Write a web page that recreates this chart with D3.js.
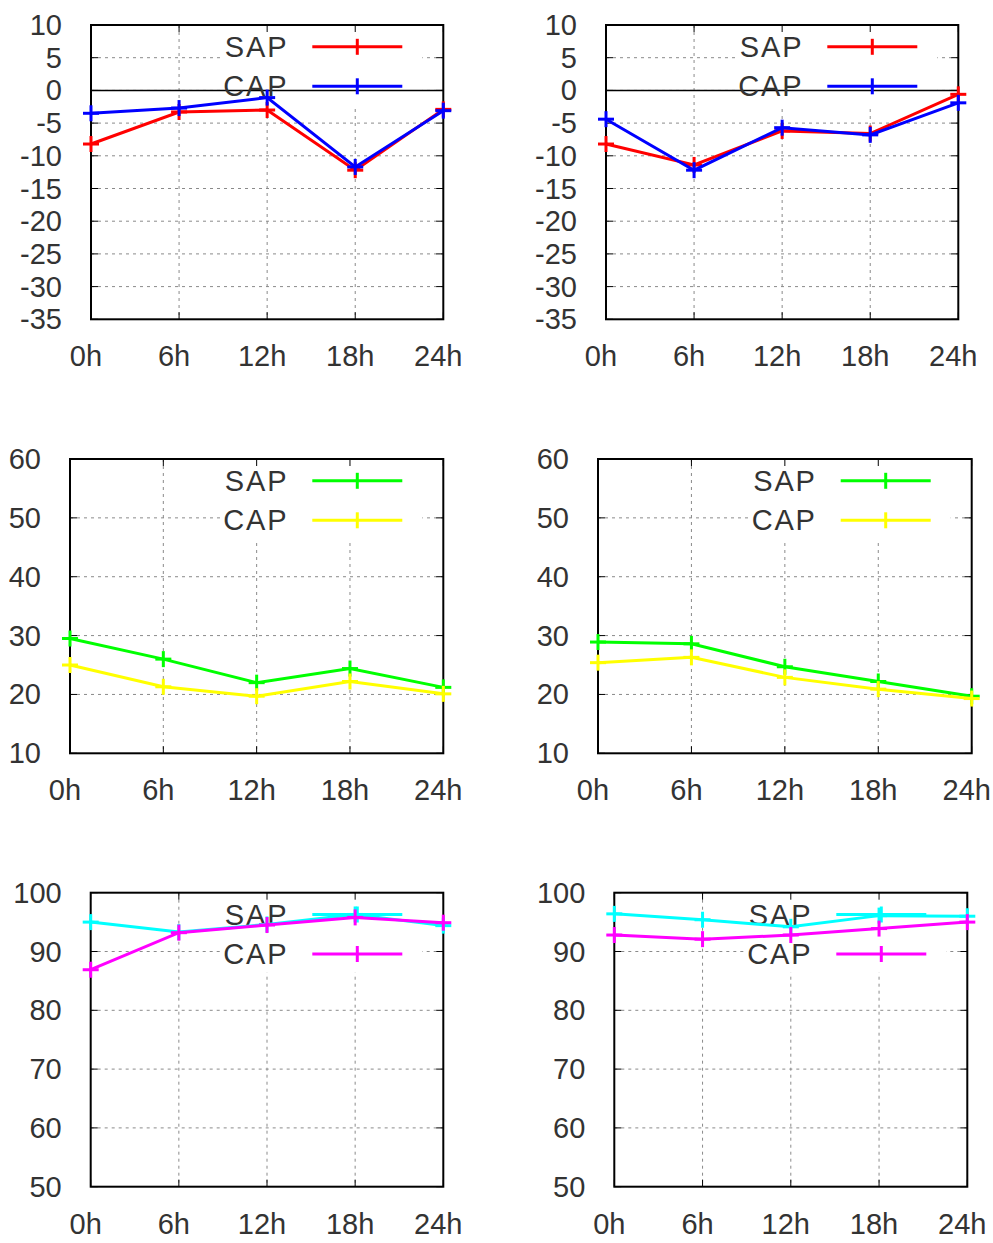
<!DOCTYPE html>
<html><head><meta charset="utf-8">
<script src="https://cdn.jsdelivr.net/npm/d3@7"></script>
<style>
html,body{margin:0;padding:0;background:#fff;}
svg text{font-family:"Liberation Sans",Arial,sans-serif;fill:#333;}
</style></head>
<body><svg id="c" width="993" height="1243"></svg>
<script>
// ---- data ----
const hours = [0, 6, 12, 18, 24];
const xTickLabels = ["0h", "6h", "12h", "18h", "24h"];
const seriesNames = ["SAP", "CAP"];

const p1SAP = [-8.2, -3.3, -3.0, -12.2, -2.9];
const p1CAP = [-3.5, -2.7, -1.1, -11.7, -3.1];
const p2SAP = [-8.2, -11.4, -6.2, -6.6, -0.6];
const p2CAP = [-4.4, -12.2, -5.7, -6.8, -1.9];
const p3SAP = [29.5, 26.0, 22.0, 24.4, 21.2];
const p3CAP = [25.0, 21.3, 19.7, 22.2, 20.1];
const p4SAP = [28.9, 28.6, 24.7, 22.2, 19.7];
const p4CAP = [25.4, 26.3, 22.9, 20.9, 19.3];
const p5SAP = [95.0, 93.3, 94.6, 96.3, 94.4];
const p5CAP = [86.9, 93.2, 94.5, 95.8, 94.9];
const p6SAP = [96.4, 95.4, 94.2, 96.1, 96.0];
const p6CAP = [92.8, 92.1, 92.8, 93.9, 95.0];

const yTicksTop = [-35, -30, -25, -20, -15, -10, -5, 0, 5, 10];
const yTicksMid = [10, 20, 30, 40, 50, 60];
const yTicksBot = [50, 60, 70, 80, 90, 100];

// ---- layout / style ----
const panels = [
  {l: 91,  r: 443.3, t: 25,    b: 319.3, yt: yTicksTop, s: [p1SAP, p1CAP], c: ["#ff0000", "#0000ff"], zero: true},
  {l: 606, r: 958.3, t: 25,    b: 319.3, yt: yTicksTop, s: [p2SAP, p2CAP], c: ["#ff0000", "#0000ff"], zero: true},
  {l: 70,  r: 443.3, t: 459,   b: 753.3, yt: yTicksMid, s: [p3SAP, p3CAP], c: ["#00ff00", "#ffff00"]},
  {l: 598, r: 971.7, t: 459,   b: 753.3, yt: yTicksMid, s: [p4SAP, p4CAP], c: ["#00ff00", "#ffff00"]},
  {l: 90.7,r: 443.3, t: 892.7, b: 1186.7, yt: yTicksBot, s: [p5SAP, p5CAP], c: ["#00ffff", "#ff00ff"]},
  {l: 614.3,r: 967.3,t: 892.7, b: 1186.7, yt: yTicksBot, s: [p6SAP, p6CAP], c: ["#00ffff", "#ff00ff"]}
];

const svg = d3.select("#c");
const FS = 29;
const M = 8; // marker half-size

panels.forEach(p => {
  const g = svg.append("g");
  const x = d3.scaleLinear().domain([0, 24]).range([p.l, p.r]);
  const y = d3.scaleLinear().domain(d3.extent(p.yt)).range([p.b, p.t]);

  // grid
  const grid = g.append("g").attr("stroke", "#8a8a8a").attr("stroke-width", 1).attr("stroke-dasharray", "3,4");
  p.yt.slice(1, -1).forEach(v => {
    grid.append("line").attr("x1", p.l).attr("x2", p.r).attr("y1", y(v)).attr("y2", y(v));
  });
  hours.slice(1, -1).forEach(h => {
    grid.append("line").attr("x1", x(h)).attr("x2", x(h)).attr("y1", p.t).attr("y2", p.b);
  });

  // key box (opaque)
  g.append("rect").attr("x", p.r - 223).attr("y", p.t + 1).attr("width", 202).attr("height", 79).attr("fill", "#fff");

  // zero axis
  if (p.zero) {
    g.append("line").attr("x1", p.l).attr("x2", p.r).attr("y1", y(0)).attr("y2", y(0))
      .attr("stroke", "#000").attr("stroke-width", 1.5);
  }

  // tick marks (mirrored, inward)
  const tk = g.append("g").attr("stroke", "#000").attr("stroke-width", 1);
  p.yt.forEach(v => {
    tk.append("line").attr("x1", p.l).attr("x2", p.l + 7).attr("y1", y(v)).attr("y2", y(v));
    tk.append("line").attr("x1", p.r).attr("x2", p.r - 7).attr("y1", y(v)).attr("y2", y(v));
  });
  hours.forEach(h => {
    tk.append("line").attr("x1", x(h)).attr("x2", x(h)).attr("y1", p.b).attr("y2", p.b - 7);
    tk.append("line").attr("x1", x(h)).attr("x2", x(h)).attr("y1", p.t).attr("y2", p.t + 7);
  });

  // border
  g.append("rect").attr("x", p.l).attr("y", p.t).attr("width", p.r - p.l).attr("height", p.b - p.t)
    .attr("fill", "none").attr("stroke", "#000").attr("stroke-width", 2);

  // axis labels
  p.yt.forEach(v => {
    g.append("text").attr("x", p.l - 29).attr("y", y(v) + 10).attr("text-anchor", "end")
      .attr("font-size", FS).text(v);
  });
  hours.forEach((h, i) => {
    g.append("text").attr("x", x(h) - 5).attr("y", p.b + 47).attr("text-anchor", "middle")
      .attr("font-size", FS).text(xTickLabels[i]);
  });

  // legend
  seriesNames.forEach((name, i) => {
    const ly = p.t + 21.8 + i * 39.5;
    g.append("text").attr("x", p.r - 155).attr("y", ly + 10).attr("text-anchor", "end")
      .attr("font-size", FS).attr("letter-spacing", 1.8).text(name);
    const lg = g.append("g").attr("stroke", p.c[i]).attr("stroke-width", 3);
    lg.append("line").attr("x1", p.r - 131).attr("x2", p.r - 41).attr("y1", ly).attr("y2", ly);
    lg.append("line").attr("x1", p.r - 86).attr("x2", p.r - 86).attr("y1", ly - M).attr("y2", ly + M);
  });

  // series
  p.s.forEach((vals, i) => {
    const pts = hours.map((h, j) => [x(h), y(vals[j])]);
    const sg = g.append("g").attr("stroke", p.c[i]).attr("stroke-width", 3).attr("fill", "none");
    sg.append("path").attr("d", d3.line()(pts));
    pts.forEach(([px, py]) => {
      sg.append("line").attr("x1", px - M).attr("x2", px + M).attr("y1", py).attr("y2", py);
      sg.append("line").attr("x1", px).attr("x2", px).attr("y1", py - M).attr("y2", py + M);
    });
  });
});
</script></body></html>
